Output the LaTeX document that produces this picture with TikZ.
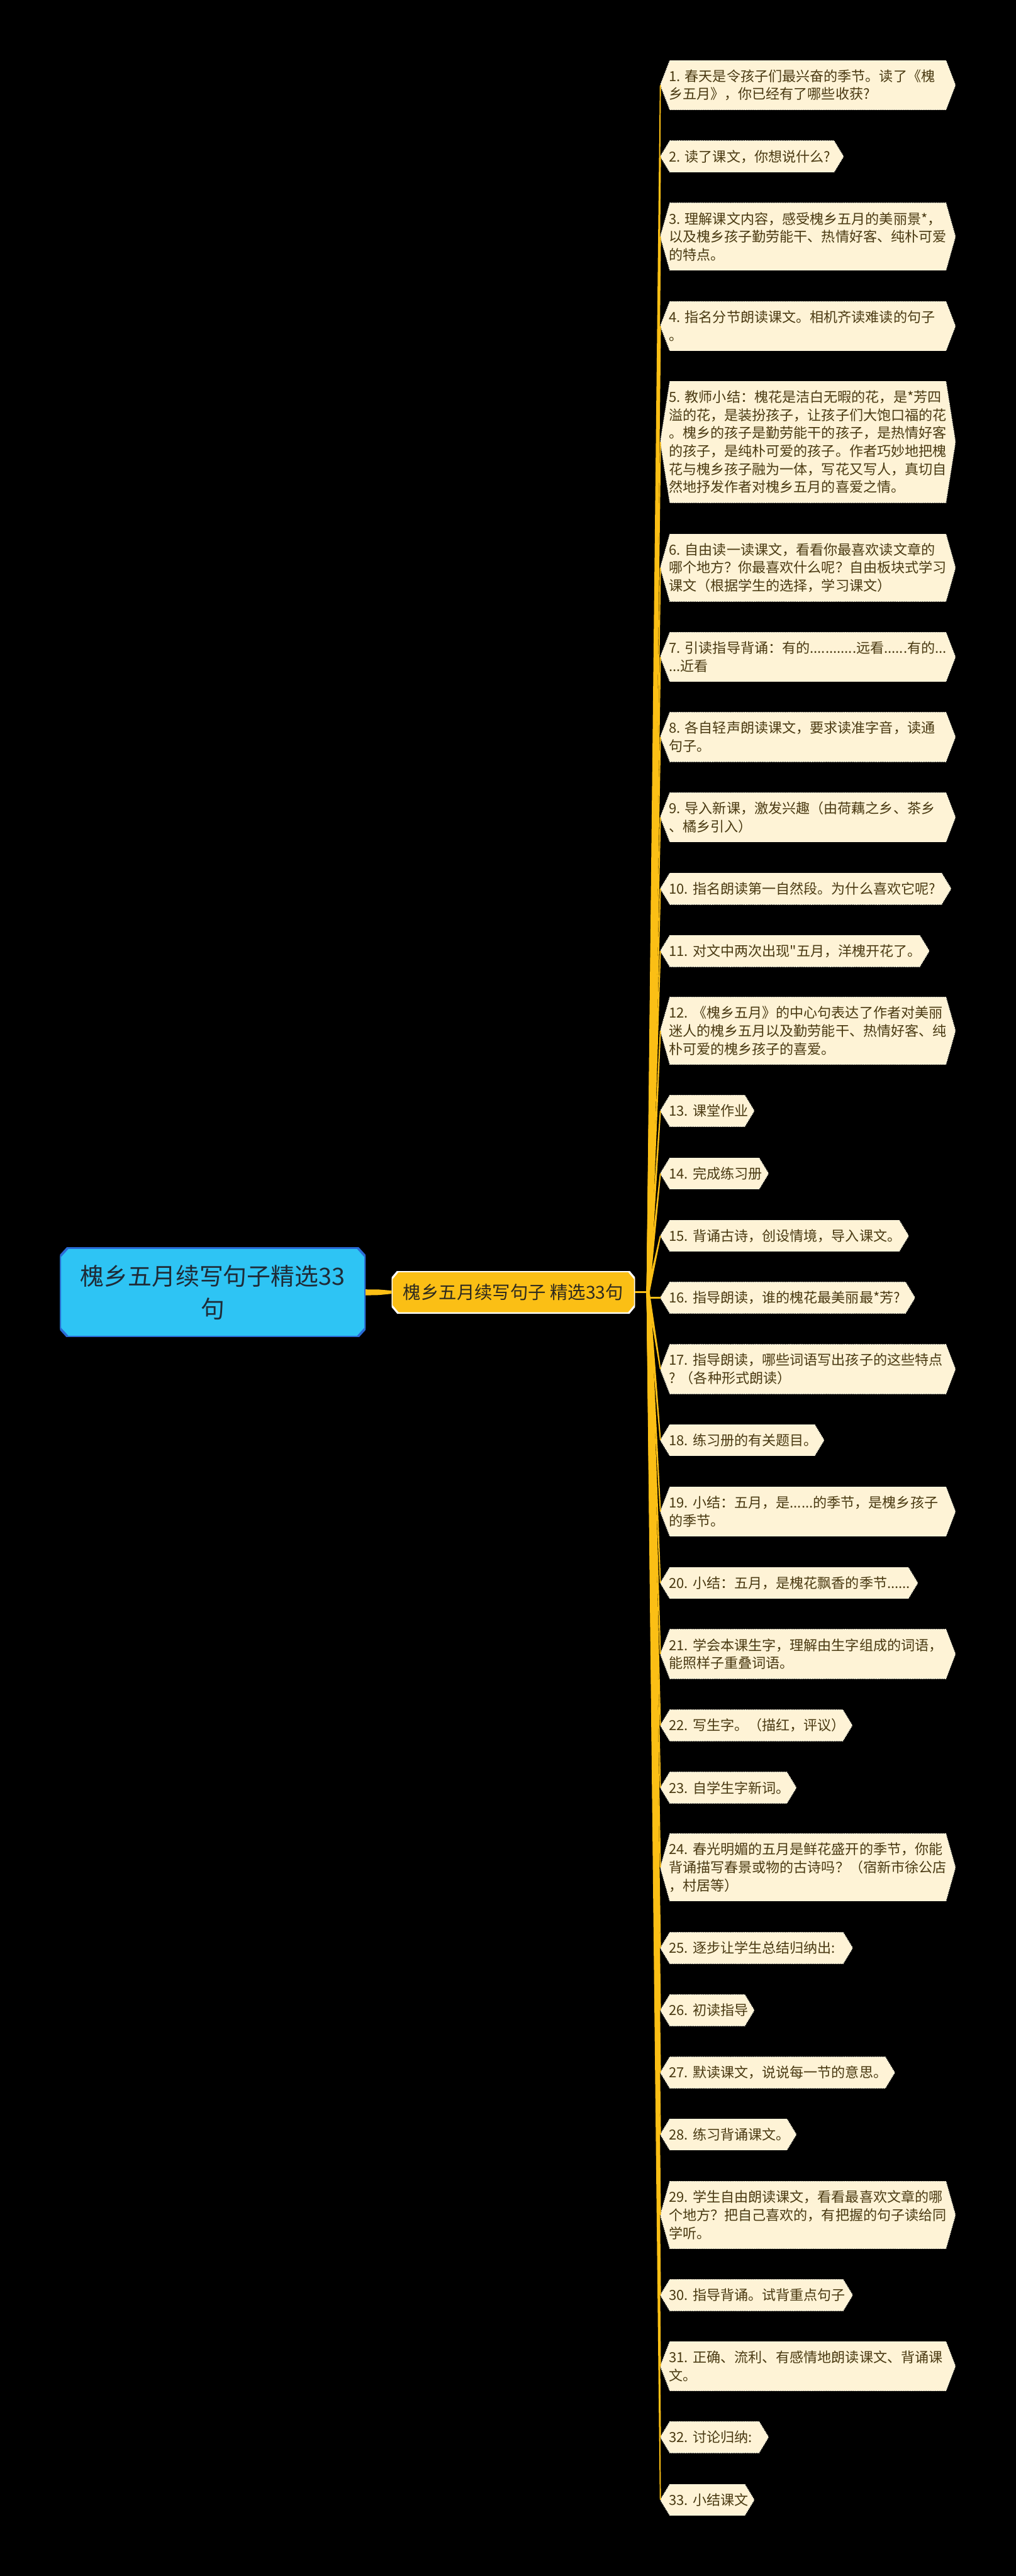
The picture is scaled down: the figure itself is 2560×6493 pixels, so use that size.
\documentclass[tikz,border=0pt]{standalone}
\usepackage{fontspec}
\newfontfamily\cjk{Noto Sans CJK SC}
\usetikzlibrary{calc}
\definecolor{rootfill}{HTML}{2EC4F4}
\definecolor{rootline}{HTML}{2A6BD6}
\definecolor{midfill}{HTML}{FBBF15}
\definecolor{conncol}{HTML}{FBBF15}
\definecolor{cream}{HTML}{FEF3D6}
\definecolor{leaftext}{HTML}{4A3A12}
\definecolor{roottext}{HTML}{1F2B37}
\definecolor{midtext}{HTML}{2E2A1E}
\tikzset{
  leaf/.style={rectangle, fill=black, inner xsep=21pt, inner ysep=0pt, align=left, anchor=west,
    text=leaftext, font=\cjk\fontsize{35pt}{45.5pt}\selectfont,
    path picture={\path[fill=cream, draw=cream!70!white, dotted, line width=2.5pt]
      ([xshift=24pt]path picture bounding box.north west) --
      ([xshift=-24pt]path picture bounding box.north east) --
      (path picture bounding box.east) --
      ([xshift=-24pt]path picture bounding box.south east) --
      ([xshift=24pt]path picture bounding box.south west) --
      (path picture bounding box.west) -- cycle;}},
  rootbox/.style={rectangle, fill=black, minimum width=770pt, minimum height=225pt, inner sep=0pt,
    align=center, text=roottext, font=\cjk\fontsize{60pt}{83pt}\selectfont,
    path picture={\path[fill=rootfill, draw=rootline, line width=6pt]
      ([xshift=20pt]path picture bounding box.north west) --
      ([xshift=-20pt]path picture bounding box.north east) --
      ([yshift=-22pt]path picture bounding box.north east) --
      ([yshift=22pt]path picture bounding box.south east) --
      ([xshift=-20pt]path picture bounding box.south east) --
      ([xshift=20pt]path picture bounding box.south west) --
      ([yshift=22pt]path picture bounding box.south west) --
      ([yshift=-22pt]path picture bounding box.north west) -- cycle;}},
  midbox/.style={rectangle, fill=black, minimum width=613pt, minimum height=106pt, inner sep=0pt,
    align=center, text=midtext, font=\cjk\fontsize{45pt}{55pt}\selectfont,
    path picture={\path[fill=midfill, draw=white, line width=5pt]
      ([xshift=16pt]path picture bounding box.north west) --
      ([xshift=-16pt]path picture bounding box.north east) --
      ([yshift=-19pt]path picture bounding box.north east) --
      ([yshift=19pt]path picture bounding box.south east) --
      ([xshift=-16pt]path picture bounding box.south east) --
      ([xshift=16pt]path picture bounding box.south west) --
      ([yshift=19pt]path picture bounding box.south west) --
      ([yshift=-19pt]path picture bounding box.north west) -- cycle;}}
}
\newcommand\leafnode[5]{\node[leaf, text width=#3pt, minimum height=#4pt] (#1) at (1664,#2) {#5};}
\newcommand\taper[2]{\fill[conncol] ($(#1)!4pt!90:(#2)$) -- ($(#2)!1.5pt!-90:(#1)$) -- ($(#2)!1.5pt!90:(#1)$) -- ($(#1)!4pt!-90:(#2)$) -- cycle;}
\begin{document}
\begin{tikzpicture}[x=1pt, y=-1pt]
\useasboundingbox (0,0) rectangle (2560,6493);
\fill[black] (0,0) rectangle (2560,6493);

\node[rootbox] (root) at (536,3257.5) {槐乡五月续写句子精选33\\句};
\node[midbox] (mid) at (1293.5,3257) {槐乡五月续写句子 精选33句};

\leafnode{c1}{214.5}{701}{124.5}{1.~春天是令孩子们最兴奋的季节。读了《槐\\乡五月》，你已经有了哪些收获?}
\leafnode{c2}{394.5}{419}{79}{2.~读了课文，你想说什么?}
\leafnode{c3}{596.5}{701}{170}{3.~理解课文内容，感受槐乡五月的美丽景*，\\以及槐乡孩子勤劳能干、热情好客、纯朴可爱\\的特点。}
\leafnode{c4}{822}{701}{124.5}{4.~指名分节朗读课文。相机齐读难读的句子\\。}
\leafnode{c5}{1114}{701}{306.5}{5.~教师小结：槐花是洁白无暇的花，是*芳四\\溢的花，是装扮孩子，让孩子们大饱口福的花\\。槐乡的孩子是勤劳能干的孩子，是热情好客\\的孩子，是纯朴可爱的孩子。作者巧妙地把槐\\花与槐乡孩子融为一体，写花又写人，真切自\\然地抒发作者对槐乡五月的喜爱之情。}
\leafnode{c6}{1431}{701}{170}{6.~自由读一读课文，看看你最喜欢读文章的\\哪个地方？你最喜欢什么呢？自由板块式学习\\课文（根据学生的选择，学习课文）}
\leafnode{c7}{1656}{701}{124.5}{7.~引读指导背诵：有的............远看......有的...\\...近看}
\leafnode{c8}{1857.5}{701}{124.5}{8.~各自轻声朗读课文，要求读准字音，读通\\句子。}
\leafnode{c9}{2060}{701}{124.5}{9.~导入新课，激发兴趣（由荷藕之乡、茶乡\\、橘乡引入）}
\leafnode{c10}{2240}{690}{79}{10.~指名朗读第一自然段。为什么喜欢它呢?}
\leafnode{c11}{2397}{635}{79}{11.~对文中两次出现"五月，洋槐开花了。}
\leafnode{c12}{2598}{701}{170}{12.~《槐乡五月》的中心句表达了作者对美丽\\迷人的槐乡五月以及勤劳能干、热情好客、纯\\朴可爱的槐乡孩子的喜爱。}
\leafnode{c13}{2800}{194}{79}{13.~课堂作业}
\leafnode{c14}{2958}{230}{79}{14.~完成练习册}
\leafnode{c15}{3115}{583}{79}{15.~背诵古诗，创设情境，导入课文。}
\leafnode{c16}{3271}{599}{79}{16.~指导朗读，谁的槐花最美丽最*芳?}
\leafnode{c17}{3451}{701}{124.5}{17.~指导朗读，哪些词语写出孩子的这些特点\\?~（各种形式朗读）}
\leafnode{c18}{3630}{370}{79}{18.~练习册的有关题目。}
\leafnode{c19}{3810}{701}{124.5}{19.~小结：五月，是......的季节，是槐乡孩子\\的季节。}
\leafnode{c20}{3990}{606}{79}{20.~小结：五月，是槐花飘香的季节......}
\leafnode{c21}{4169}{701}{124.5}{21.~学会本课生字，理解由生字组成的词语，\\能照样子重叠词语。}
\leafnode{c22}{4349}{441}{79}{22.~写生字。（描红，评议）}
\leafnode{c23}{4506}{300}{79}{23.~自学生字新词。}
\leafnode{c24}{4707}{701}{170}{24.~春光明媚的五月是鲜花盛开的季节，你能\\背诵描写春景或物的古诗吗？（宿新市徐公店\\，村居等）}
\leafnode{c25}{4910}{442}{79}{25.~逐步让学生总结归纳出:}
\leafnode{c26}{5067}{194}{79}{26.~初读指导}
\leafnode{c27}{5224}{548}{79}{27.~默读课文，说说每一节的意思。}
\leafnode{c28}{5380}{300}{79}{28.~练习背诵课文。}
\leafnode{c29}{5583}{701}{170}{29.~学生自由朗读课文，看看最喜欢文章的哪\\个地方？把自己喜欢的，有把握的句子读给同\\学听。}
\leafnode{c30}{5785}{442}{79}{30.~指导背诵。试背重点句子}
\leafnode{c31}{5964}{701}{124.5}{31.~正确、流利、有感情地朗读课文、背诵课\\文。}
\leafnode{c32}{6143}{230}{79}{32.~讨论归纳:}
\leafnode{c33}{6301}{194}{79}{33.~小结课文}

% root -> middle
\fill[conncol] ([yshift=7.5pt]root.east) -- ([yshift=7pt]$(root.east)!0.5!(mid.west)$) -- ([yshift=4pt]mid.west)
  -- ([yshift=-4pt]mid.west) -- ([yshift=-7pt]$(root.east)!0.5!(mid.west)$) -- ([yshift=-7.5pt]root.east) -- cycle;
% middle -> junction
\coordinate (J) at (1633,3257);
\draw[conncol, line width=4pt] (mid.east) -- (J);
\foreach \i in {1,...,15}{\taper{J}{c\i.west}}
\foreach \i in {17,...,33}{\taper{J}{c\i.west}}
\draw[conncol, line width=4pt] (J) |- (c16.west);
\end{tikzpicture}
\end{document}
